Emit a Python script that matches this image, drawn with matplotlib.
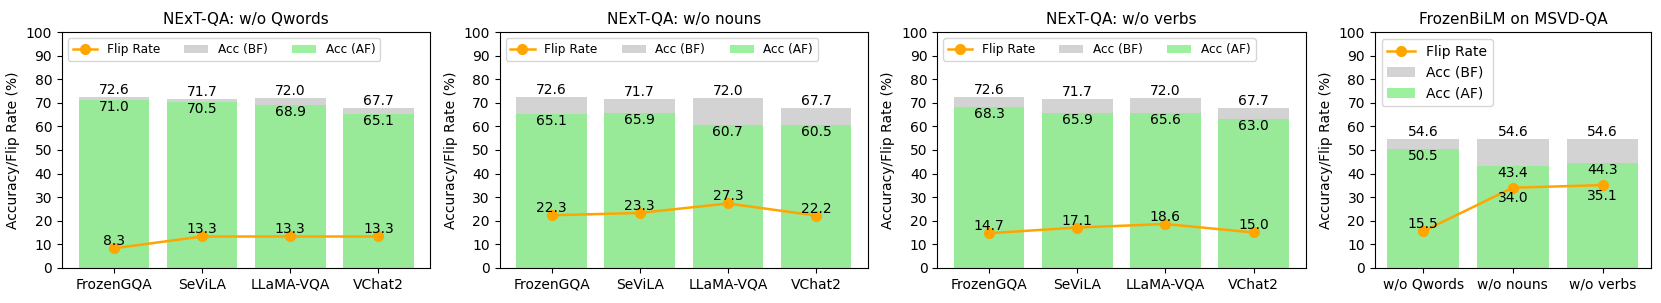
import numpy as np
import matplotlib
matplotlib.use("Agg")
import matplotlib.pyplot as plt

# data
models = ['FrozenGQA', 'SeViLA', 'LLaMA-VQA', 'VChat2']
acc_bf = [72.6, 71.7, 72.0, 67.7]

qwords_af = [71.0, 70.5, 68.9, 65.1]
qwords_flip = [8.3, 13.3, 13.3, 13.3]

nouns_af = [65.1, 65.9, 60.7, 60.5]
nouns_flip = [22.3, 23.3, 27.3, 22.2]

verbs_af = [68.3, 65.9, 65.6, 63.0]
verbs_flip = [14.7, 17.1, 18.6, 15.0]

msvd_cats = ['w/o Qwords', 'w/o nouns', 'w/o verbs']
msvd_bf = [54.6, 54.6, 54.6]
msvd_af = [50.5, 43.4, 44.3]
msvd_flip = [15.5, 34.0, 35.1]

panels = [
    ('NExT-QA: w/o Qwords', models, acc_bf, qwords_af, qwords_flip),
    ('NExT-QA: w/o nouns', models, acc_bf, nouns_af, nouns_flip),
    ('NExT-QA: w/o verbs', models, acc_bf, verbs_af, verbs_flip),
    ('FrozenBiLM on MSVD-QA', msvd_cats, msvd_bf, msvd_af, msvd_flip),
]

fig, axes = plt.subplots(1, 4, figsize=(16.61, 3.03), dpi=100,
                         gridspec_kw={'width_ratios': [4, 4, 4, 3]})
fig.subplots_adjust(left=0.0373, right=0.994, top=0.894, bottom=0.116, wspace=0.2)

for i, (ax, (title, cats, bf, af, flip)) in enumerate(zip(axes, panels)):
    x = np.arange(len(cats))
    b1 = ax.bar(x, bf, width=0.8, color='lightgray', label='Acc (BF)')
    b2 = ax.bar(x, af, width=0.8, color='lightgreen', alpha=0.88, label='Acc (AF)')
    l1, = ax.plot(x, flip, color='orange', marker='o', markersize=7, linewidth=1.8,
                  label='Flip Rate', zorder=3)
    for xi, b, a, f in zip(x, bf, af, flip):
        ax.text(xi, b, f'{b:.1f}', ha='center', va='bottom', fontsize=10)
        ax.text(xi, a, f'{a:.1f}', ha='center', va='top', fontsize=10)
        if a - f < 15:
            ax.text(xi, f - 1.5, f'{f:.1f}', ha='center', va='top', fontsize=10, zorder=4)
        else:
            ax.text(xi, f, f'{f:.1f}', ha='center', va='bottom', fontsize=10, zorder=4)
    ax.set_xticks(x)
    ax.set_xticklabels(cats, fontsize=10)
    ax.set_ylim(0, 100)
    ax.set_yticks(range(0, 101, 10))
    ax.tick_params(axis='y', labelsize=10)
    ax.set_ylabel('Accuracy/Flip Rate (%)', fontsize=10)
    ax.set_title(title, fontsize=11)
    handles = [l1, b1, b2]
    labels = ['Flip Rate', 'Acc (BF)', 'Acc (AF)']
    if i < 3:
        ax.legend(handles, labels, loc='upper left', ncol=3, fontsize=8.7)
    else:
        ax.legend(handles, labels, loc='upper left', ncol=1, fontsize=10)

plt.savefig('out.png', dpi=100)
